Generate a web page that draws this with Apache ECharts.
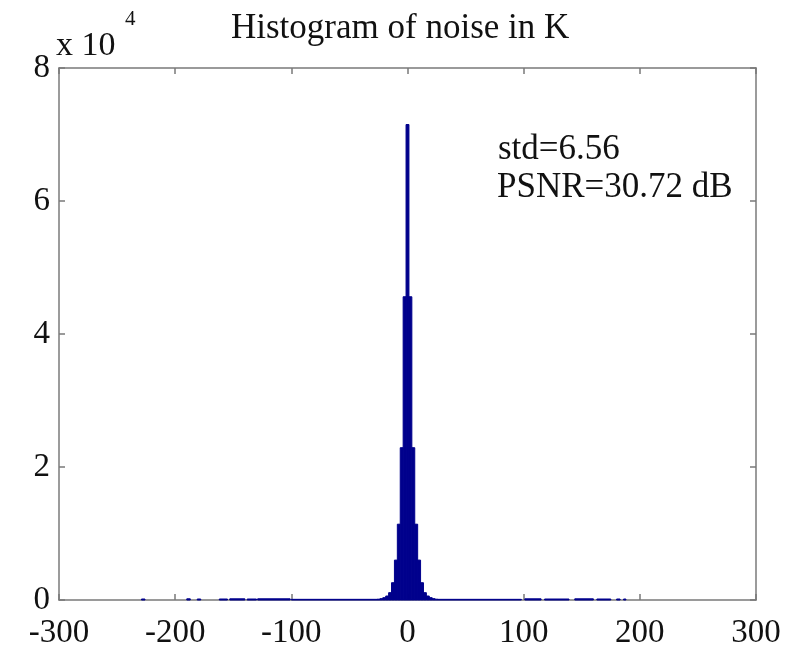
<!DOCTYPE html>
<html>
<head>
<meta charset="utf-8">
<script src="https://cdn.jsdelivr.net/npm/echarts@6/dist/echarts.min.js"></script>
<style>
  html, body { margin: 0; padding: 0; background: #fff; }
  #main { width: 785px; height: 652px; }
</style>
</head>
<body>
<div id="main"></div>
<script>
// histogram bins: left edge, right edge, count
var binStart = [-229, -190, -181, -162, -153, -138, -129, -100,
  -26.25, -23.75, -21.25, -18.75, -16.25, -13.75, -11.25, -8.75, -6.25, -3.75,
  -1.25, 1.25, 3.75, 6.25, 8.75, 11.25, 13.75, 16.25, 18.75, 21.25, 23.75,
  26.25, 101, 118, 144, 163, 180, 186];
var binEnd = [-226, -187, -178, -155, -140, -130, -101, -26.25,
  -23.75, -21.25, -18.75, -16.25, -13.75, -11.25, -8.75, -6.25, -3.75, -1.25,
  1.25, 3.75, 6.25, 8.75, 11.25, 13.75, 16.25, 18.75, 21.25, 23.75, 26.25,
  98, 115, 139, 160, 175, 183, 188];
var binCount = [150, 180, 150, 150, 180, 150, 180, 100,
  120, 200, 350, 600, 1100, 2600, 6000, 11400, 22900, 45600,
  71500, 45600, 22900, 11400, 6000, 2600, 1100, 600, 350, 200, 120,
  100, 180, 150, 180, 150, 150, 150];

var chart = echarts.init(document.getElementById('main'));

var histData = binCount.map(function (c, i) {
  return [binStart[i], binEnd[i], c];
});

var serif = '"Liberation Serif", "DejaVu Serif", serif';
var axisColor = '#7a7a7a';
var barColor = '#00008c';

function renderBin(params, api) {
  var p0 = api.coord([api.value(0), api.value(2)]);
  var p1 = api.coord([api.value(1), 0]);
  return {
    type: 'rect',
    shape: { x: p0[0], y: p0[1], width: Math.max(p1[0] - p0[0], 1), height: p1[1] - p0[1] },
    style: { fill: barColor, stroke: barColor, lineWidth: 1 }
  };
}

function frameAxis(pos) {
  return {
    type: 'value', position: pos,
    axisLine: { show: true, onZero: false, lineStyle: { color: axisColor, width: 1.5 } },
    axisTick: { show: true, inside: true, length: 6, lineStyle: { color: axisColor, width: 1.5 } },
    axisLabel: { show: false },
    splitLine: { show: false }
  };
}

var xTop = frameAxis('top');
xTop.min = -300; xTop.max = 300; xTop.interval = 100;
var yRight = frameAxis('right');
yRight.min = 0; yRight.max = 80000; yRight.interval = 20000;

var option = {
  backgroundColor: '#ffffff',
  animation: false,
  title: {
    text: 'Histogram of noise in K',
    left: 226,
    top: 6,
    textStyle: { fontFamily: serif, fontSize: 35, fontWeight: 'normal', color: '#111' }
  },
  grid: { left: 59, right: 29, top: 68, bottom: 52 },
  xAxis: [{
    type: 'value',
    min: -300, max: 300, interval: 100,
    axisLine: { onZero: false, lineStyle: { color: axisColor, width: 1.5 } },
    axisTick: { inside: true, length: 6, lineStyle: { color: axisColor, width: 1.5 } },
    axisLabel: { fontFamily: serif, fontSize: 33, color: '#111', margin: 17 },
    splitLine: { show: false }
  }, xTop],
  yAxis: [{
    type: 'value',
    min: 0, max: 80000, interval: 20000,
    axisLine: { show: true, onZero: false, lineStyle: { color: axisColor, width: 1.5 } },
    axisTick: { show: true, inside: true, length: 6, lineStyle: { color: axisColor, width: 1.5 } },
    axisLabel: {
      fontFamily: serif, fontSize: 33, color: '#111', margin: 9,
      formatter: function (v) { return String(v / 10000); }
    },
    splitLine: { show: false }
  }, yRight],
  graphic: [{
    type: 'text', left: 56, top: 29,
    style: { text: 'x 10', fontFamily: serif, fontSize: 34, fill: '#111' }
  }, {
    type: 'text', left: 125, top: 9,
    style: { text: '4', fontFamily: serif, fontSize: 21, fill: '#111' }
  }, {
    type: 'text', left: 498, top: 132,
    style: { text: 'std=6.56', fontFamily: serif, fontSize: 35, fill: '#111' }
  }, {
    type: 'text', left: 497, top: 170,
    style: { text: 'PSNR=30.72 dB', fontFamily: serif, fontSize: 35, fill: '#111' }
  }],
  series: [{
    type: 'custom',
    renderItem: renderBin,
    encode: { x: [0, 1], y: 2 },
    data: histData,
    z: 1
  }]
};

chart.setOption(option);
</script>
</body>
</html>
